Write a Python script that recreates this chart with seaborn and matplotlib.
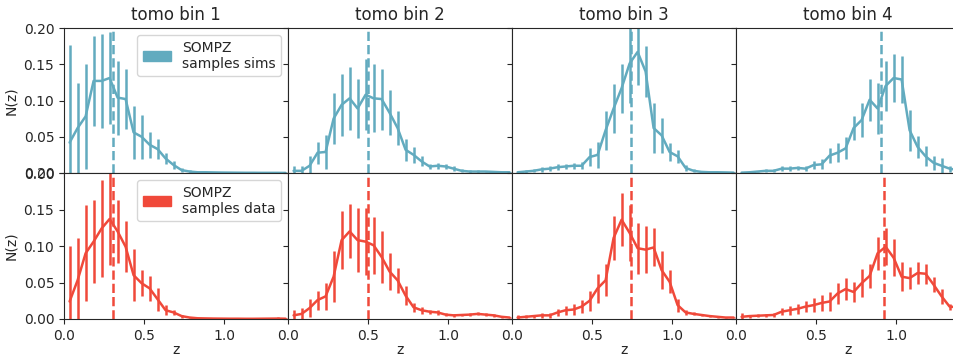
import numpy as np
import matplotlib
matplotlib.use("Agg")
import matplotlib.pyplot as plt
from matplotlib.patches import Patch
import seaborn as sns

# ---- data ----
z_centers = [0.035, 0.085, 0.135, 0.185, 0.235, 0.285, 0.335, 0.385, 0.435, 0.485,
             0.535, 0.585, 0.635, 0.685, 0.735, 0.785, 0.835, 0.885, 0.935, 0.985,
             1.035, 1.085, 1.135, 1.185, 1.235, 1.285, 1.335, 1.385]

sims_bin1 = [0.042, 0.062, 0.078, 0.127, 0.127, 0.131, 0.104, 0.102, 0.056, 0.050,
             0.039, 0.033, 0.020, 0.011, 0.004, 0.002, 0.001, 0.001, 0.0008, 0.0006,
             0.0005, 0.0004, 0.0003, 0.0003, 0.0002, 0.0002, 0.0002, 0.0001]
sims_err1 = [0.135, 0.062, 0.072, 0.062, 0.065, 0.064, 0.051, 0.041, 0.036, 0.030,
             0.018, 0.014, 0.007, 0.006, 0.003, 0.002, 0.001, 0.001, 0.001, 0.0008,
             0.0006, 0.0005, 0.0004, 0.0004, 0.0003, 0.0003, 0.0003, 0.0002]
sims_bin2 = [0.003, 0.003, 0.010, 0.028, 0.029, 0.075, 0.094, 0.103, 0.089, 0.108,
             0.103, 0.102, 0.083, 0.062, 0.032, 0.025, 0.016, 0.009, 0.010, 0.009,
             0.006, 0.003, 0.002, 0.002, 0.002, 0.0015, 0.001, 0.001]
sims_err2 = [0.006, 0.007, 0.013, 0.015, 0.023, 0.035, 0.043, 0.043, 0.041, 0.049,
             0.047, 0.042, 0.031, 0.024, 0.015, 0.011, 0.007, 0.004, 0.004, 0.003,
             0.003, 0.002, 0.002, 0.002, 0.001, 0.001, 0.001, 0.001]
sims_bin3 = [0.001, 0.002, 0.003, 0.005, 0.006, 0.008, 0.009, 0.010, 0.010, 0.022,
             0.025, 0.059, 0.089, 0.117, 0.151, 0.167, 0.140, 0.062, 0.052, 0.029,
             0.023, 0.007, 0.003, 0.0015, 0.001, 0.001, 0.0008, 0.0005]
sims_err3 = [0.001, 0.002, 0.002, 0.003, 0.003, 0.004, 0.004, 0.004, 0.005, 0.012,
             0.018, 0.027, 0.034, 0.034, 0.055, 0.045, 0.035, 0.034, 0.024, 0.013,
             0.009, 0.004, 0.002, 0.001, 0.001, 0.001, 0.001, 0.001]
sims_bin4 = [0.0005, 0.001, 0.002, 0.003, 0.003, 0.006, 0.006, 0.007, 0.006, 0.011,
             0.012, 0.024, 0.028, 0.034, 0.062, 0.073, 0.101, 0.089, 0.120, 0.131,
             0.129, 0.059, 0.036, 0.023, 0.014, 0.010, 0.006, 0.004]
sims_err4 = [0.001, 0.001, 0.001, 0.002, 0.002, 0.003, 0.003, 0.003, 0.003, 0.005,
             0.007, 0.010, 0.013, 0.015, 0.016, 0.024, 0.029, 0.035, 0.034, 0.033,
             0.032, 0.028, 0.015, 0.014, 0.010, 0.011, 0.004, 0.003]

data_bin1 = [0.024, 0.053, 0.090, 0.106, 0.124, 0.137, 0.120, 0.099, 0.060, 0.049,
             0.042, 0.027, 0.012, 0.009, 0.004, 0.002, 0.001, 0.0008, 0.0006, 0.0005,
             0.0004, 0.0004, 0.0003, 0.0003, 0.0004, 0.0005, 0.0006, 0.0004]
data_err1 = [0.076, 0.058, 0.066, 0.057, 0.067, 0.063, 0.043, 0.035, 0.036, 0.018,
             0.017, 0.016, 0.007, 0.004, 0.002, 0.001, 0.001, 0.001, 0.001, 0.001,
             0.001, 0.001, 0.001, 0.001, 0.001, 0.001, 0.002, 0.001]
data_bin2 = [0.005, 0.007, 0.015, 0.026, 0.031, 0.058, 0.108, 0.120, 0.108, 0.106,
             0.101, 0.085, 0.065, 0.053, 0.032, 0.016, 0.012, 0.010, 0.009, 0.006,
             0.005, 0.0055, 0.006, 0.007, 0.006, 0.005, 0.003, 0.002]
data_err2 = [0.007, 0.008, 0.012, 0.013, 0.018, 0.035, 0.040, 0.037, 0.044, 0.046,
             0.039, 0.035, 0.025, 0.017, 0.013, 0.006, 0.005, 0.003, 0.003, 0.002,
             0.002, 0.002, 0.002, 0.002, 0.002, 0.002, 0.001, 0.001]
data_bin3 = [0.002, 0.003, 0.004, 0.005, 0.005, 0.009, 0.012, 0.013, 0.017, 0.025,
             0.042, 0.053, 0.111, 0.136, 0.118, 0.097, 0.095, 0.098, 0.067, 0.051,
             0.019, 0.009, 0.007, 0.0055, 0.004, 0.003, 0.002, 0.002]
data_err3 = [0.003, 0.002, 0.002, 0.003, 0.003, 0.005, 0.006, 0.007, 0.009, 0.014,
             0.020, 0.022, 0.030, 0.036, 0.038, 0.035, 0.032, 0.026, 0.026, 0.016,
             0.009, 0.004, 0.002, 0.002, 0.001, 0.001, 0.001, 0.001]
data_bin4 = [0.003, 0.004, 0.0045, 0.005, 0.0055, 0.010, 0.012, 0.014, 0.017, 0.019,
             0.022, 0.024, 0.035, 0.041, 0.037, 0.049, 0.059, 0.090, 0.099, 0.084,
             0.058, 0.056, 0.063, 0.062, 0.047, 0.031, 0.017, 0.016]
data_err4 = [0.005, 0.002, 0.002, 0.002, 0.003, 0.005, 0.006, 0.007, 0.008, 0.010,
             0.011, 0.013, 0.014, 0.015, 0.014, 0.019, 0.016, 0.023, 0.025, 0.025,
             0.020, 0.015, 0.015, 0.014, 0.010, 0.010, 0.004, 0.004]

mean_z_sims = [0.308, 0.502, 0.744, 0.906]
mean_z_data = [0.308, 0.502, 0.744, 0.925]

titles = ["tomo bin 1", "tomo bin 2", "tomo bin 3", "tomo bin 4"]
label_sims = "SOMPZ\nsamples sims"
label_data = "SOMPZ\nsamples data"
x_ticks = [0.0, 0.5, 1.0]
y_ticks = [0.00, 0.05, 0.10, 0.15, 0.20]

sims_vals = [sims_bin1, sims_bin2, sims_bin3, sims_bin4]
sims_errs = [sims_err1, sims_err2, sims_err3, sims_err4]
data_vals = [data_bin1, data_bin2, data_bin3, data_bin4]
data_errs = [data_err1, data_err2, data_err3, data_err4]

col_sims = "#62abbf"
col_data = "#f0493a"

sns.set_style("ticks")
plt.rcParams["font.family"] = ["DejaVu Sans"]

W, H = 954, 357
fig = plt.figure(figsize=(W / 100, H / 100), dpi=100)

left0 = 64
pw = 224
rows = [(28, 173), (173, 319)]
axes = [[None] * 4 for _ in range(2)]
for r, (top, bot) in enumerate(rows):
    for c in range(4):
        kw = {}
        if c > 0 or r > 0:
            kw["sharex"] = axes[0][0]
            kw["sharey"] = axes[0][0]
        ax = fig.add_axes([(left0 + c * pw) / W, 1 - bot / H, pw / W, (bot - top) / H], **kw)
        axes[r][c] = ax

for r in range(2):
    vals = sims_vals if r == 0 else data_vals
    errs = sims_errs if r == 0 else data_errs
    means = mean_z_sims if r == 0 else mean_z_data
    col = col_sims if r == 0 else col_data
    for c in range(4):
        ax = axes[r][c]
        sns.lineplot(x=z_centers, y=vals[c], ax=ax, color=col, lw=1.8)
        ax.errorbar(z_centers, vals[c], yerr=errs[c], fmt="none", ecolor=col,
                    elinewidth=1.8)
        ax.axvline(means[c], color=col, ls="--", lw=1.8)
        ax.set_xlim(0, 1.4)
        ax.set_ylim(0, 0.2)
        ax.set_xticks(x_ticks)
        ax.set_yticks(y_ticks)
        if c == 0:
            ax.set_ylabel("N(z)")
        else:
            ax.tick_params(labelleft=False)
            ax.set_ylabel("")
        if r == 0:
            ax.tick_params(labelbottom=False)
            ax.set_title(titles[c], fontsize=12)
            ax.set_xlabel("")
        else:
            ax.set_xlabel("z", labelpad=0)
        ax.tick_params(labelsize=10)
        for s in ax.spines.values():
            s.set_visible(True)

axes[0][0].legend(handles=[Patch(color=col_sims, label=label_sims)],
                  loc="upper right", fontsize=10)
axes[1][0].legend(handles=[Patch(color=col_data, label=label_data)],
                  loc="upper right", fontsize=10)

fig.savefig("out.png", dpi=100)
